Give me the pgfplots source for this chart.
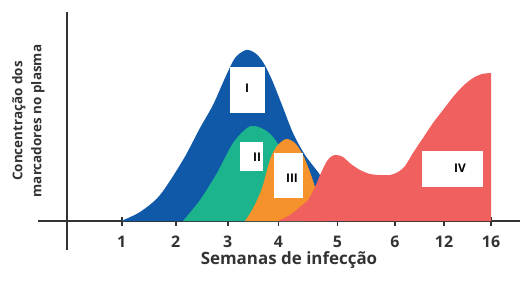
\documentclass[border=0pt]{standalone}
\usepackage{pgfplots}
\pgfplotsset{compat=1.18}
\usepackage{fontspec}
\setmainfont{Open Sans}
\definecolor{cI}{RGB}{16,89,168}
\definecolor{cII}{RGB}{27,180,140}
\definecolor{cIII}{RGB}{245,146,43}
\definecolor{cIV}{RGB}{240,96,95}
\definecolor{axgray}{RGB}{51,51,51}
\begin{document}
\begin{tikzpicture}
\begin{axis}[
  scale only axis,
  width=482bp, height=238bp,
  xmin=-29, xmax=453, ymin=-29, ymax=209,
  enlargelimits=false,
  axis lines=middle,
  axis line style={-, line width=1.6bp, axgray},
  clip=false,
  ytick=\empty,
  xtick={54.7,108.7,160.7,211.3,270.3,328,377,424},
  xticklabels={1,2,3,4,5,6,12,16},
  major tick length=9bp,
  tick align=center,
  tick style={line width=1.6bp, axgray},
  xticklabel style={anchor=base, yshift=-22bp, text=axgray, font=\bfseries\fontsize{16}{16}\selectfont},
]
% I
\addplot[fill=cI, draw=none, smooth, tension=0.5] coordinates {
(54,0)(73,9)(93,26)(116,61)(133,93)(146,116)(158,143)(168,163)(179,171)(188,168)(196,159)(205,141)(215,116)(226,88)(238,66)(253,46)(268,21)(278,0)
} \closedcycle;
% II
\addplot[fill=cII, draw=none, smooth, tension=0.5] coordinates {
(116,0)(133,21)(150,48)(166,78)(180,93)(188,95)(198,91)(206,84)(218,66)(228,41)(238,0)
} \closedcycle;
% III
\addplot[fill=cIII, draw=none, smooth, tension=0.5] coordinates {
(178,0)(185,11)(191,23)(196,36)(200,51)(204,64)(210,75)(219,82)(228,78)(236,66)(243,49)(249,31)(255,11)(259,0)
} \closedcycle;
% IV
\addplot[fill=cIV, draw=none, smooth, tension=0.5] coordinates {
(211,0)(223,6)(233,14)(241,21)(248,34)(254,48)(260,60)(265,65)(270,66)(276,64)(284,57)(293,51)(303,47)(313,46)(323,46)(331,49)(338,55)(346,68)(356,83)(366,98)(376,111)(386,124)(396,135)(406,143)(415,147)(424,148)
} \closedcycle;
% label boxes
\fill[white] (axis cs:163,108) rectangle (axis cs:198,154);
\fill[white] (axis cs:173,50) rectangle (axis cs:196,79);
\fill[white] (axis cs:207,23) rectangle (axis cs:236,68);
\fill[white] (axis cs:355,34) rectangle (axis cs:416,70);
\node[font=\bfseries\fontsize{12}{12}\selectfont] at (axis cs:180,133) {I};
\node[font=\bfseries\fontsize{12}{12}\selectfont] at (axis cs:190,64) {II};
\node[font=\bfseries\fontsize{12}{12}\selectfont] at (axis cs:225,43) {III};
\node[font=\bfseries\fontsize{12}{12}\selectfont] at (axis cs:393,53) {IV};
% axis labels
\node[anchor=base, text=axgray, font=\bfseries\fontsize{17}{17}\selectfont] at (axis cs:222,-43) {Semanas de infecção};
\node[rotate=90, text=axgray, font=\bfseries\fontsize{13.5}{13.5}\selectfont] at (axis cs:-48,100) {Concentração dos};
\node[rotate=90, text=axgray, font=\bfseries\fontsize{13.5}{13.5}\selectfont] at (axis cs:-29,100) {marcadores no plasma};
\path (axis cs:-67,-82) rectangle (axis cs:462,221);
\end{axis}
\end{tikzpicture}
\end{document}
